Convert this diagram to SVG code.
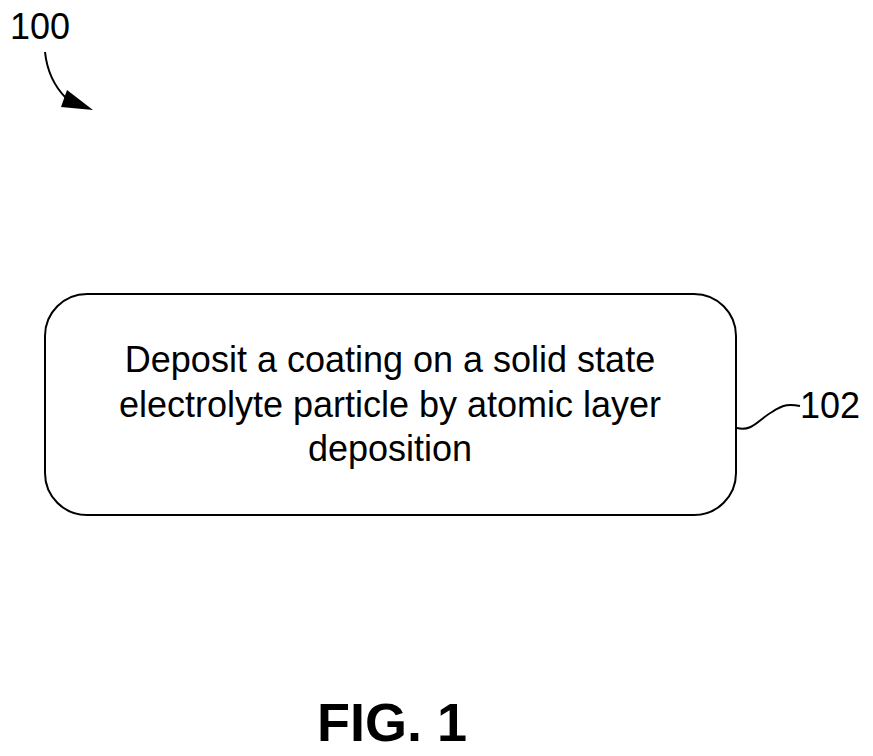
<svg xmlns="http://www.w3.org/2000/svg" width="873" height="756" viewBox="0 0 873 756">
<style>
text{font-family:"Liberation Sans",Arial,sans-serif;fill:#000}
.l{fill:none;stroke:#000;stroke-width:2}
</style>
<rect width="873" height="756" fill="#fff"/>
<g id="connectors">
<path class="l" d="M45,52 Q48,80 66,98"/>
<polygon points="67,90 93,110 61,107" fill="#000"/>
<path class="l" d="M737,428 C752,432 758,420 772,412 C784,404 790,404 800,406"/>
</g>
<g id="label100"><text x="10" y="39" font-size="36">100</text></g>
<g id="node102">
<rect x="45" y="294" width="691" height="221" rx="42" fill="#fff" stroke="#000" stroke-width="2"/>
<text x="390" y="372" font-size="36" text-anchor="middle">Deposit a coating on a solid state</text>
<text x="390" y="417" font-size="36" text-anchor="middle">electrolyte particle by atomic layer</text>
<text x="390" y="461" font-size="36" text-anchor="middle">deposition</text>
</g>
<g id="label102"><text x="800" y="418" font-size="36">102</text></g>
<g id="fig"><text x="392" y="741" font-size="54" font-weight="bold" text-anchor="middle">FIG. 1</text></g>
</svg>
